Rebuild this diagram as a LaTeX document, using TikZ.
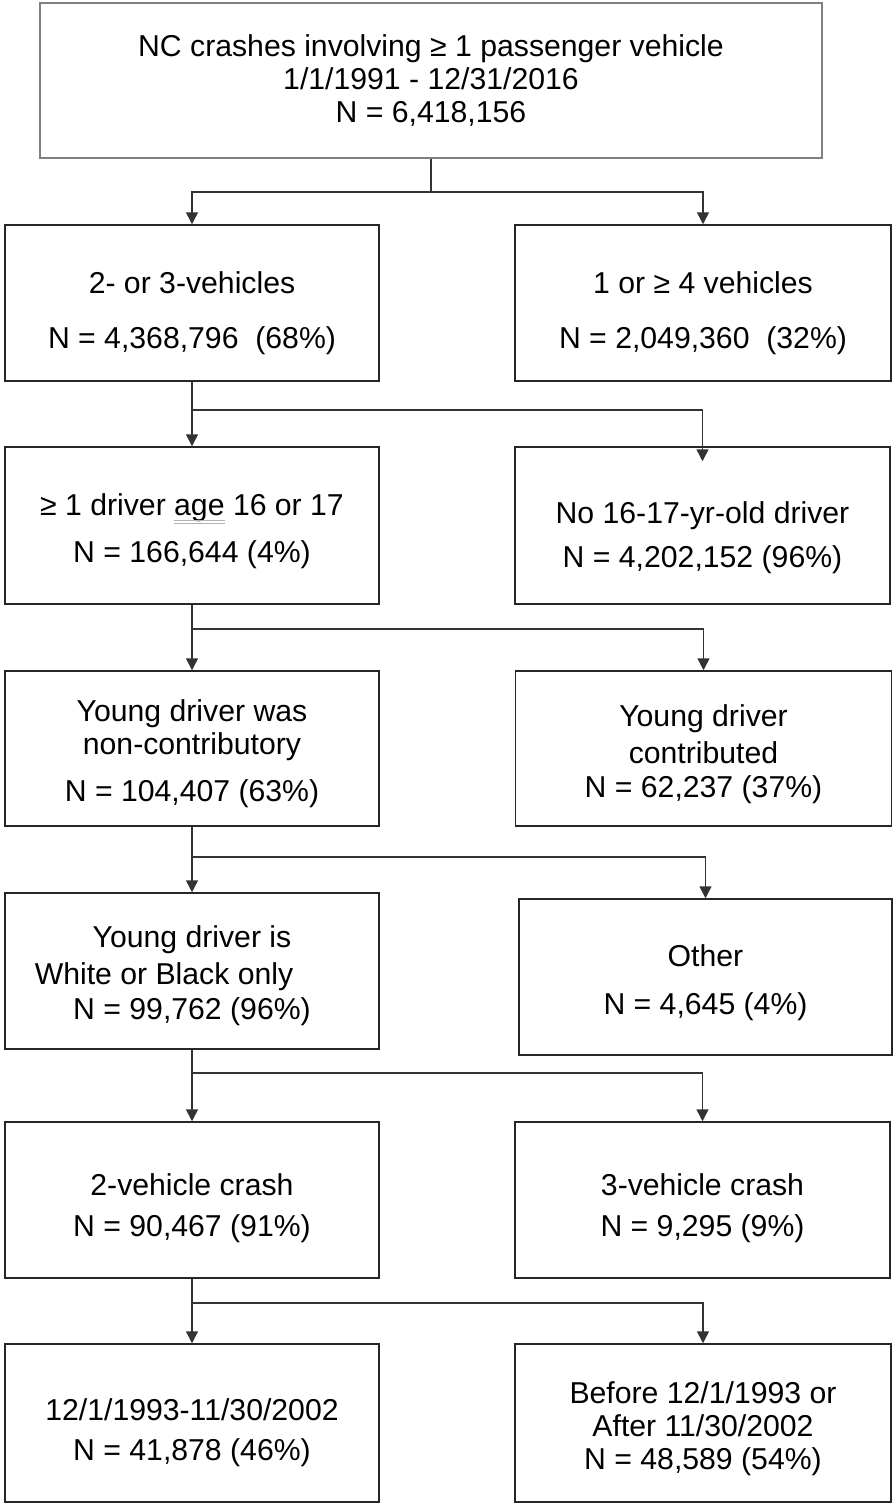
\documentclass[tikz,border=0pt]{standalone}
\usepackage{fontspec}
\setmainfont{Liberation Sans}
\usetikzlibrary{arrows.meta}
\tikzset{
  box/.style={draw=black!85, line width=1.5pt, minimum height=156pt, inner sep=0pt,
    align=center, font=\fontsize{30.2}{33}\selectfont},
  lbox/.style={box, minimum width=374pt},
  rbox/.style={box, minimum width=376pt},
  link/.style={draw=black!80, line width=1.5pt},
  arr/.style={link, -{Triangle[width=12pt,length=12pt]}}
}
% strut that pushes a box text down a little
\newcommand{\lift}[1][33pt]{\rule{0pt}{#1}}
% the grey double line under "age"
\newlength\markwd
\newcommand{\grammarmark}[1]{\settowidth{\markwd}{#1}#1\llap{\textcolor{black!30}{\rule[-6pt]{\markwd}{1.2pt}}}\llap{\textcolor{black!30}{\rule[-9pt]{\markwd}{1.2pt}}}}

\begin{document}
\begin{tikzpicture}[x=1pt,y=-1pt]
\useasboundingbox (0,0) rectangle (896,1512);
\node[box, draw=black!50, line width=2pt, minimum width=782pt, minimum height=155pt] (crashes) at (431,80.5)
  {NC crashes involving ≥ 1 passenger vehicle\\1/1/1991 - 12/31/2016\\N = 6,418,156};
\node[lbox] (multi) at (192,303) {\lift[43pt]2- or 3-vehicles\\[22pt]N = 4,368,796\ \ (68\%)};
\node[rbox] (single) at (703,303) {\lift[43pt]1 or ≥ 4 vehicles\\[22pt]N = 2,049,360\ \ (32\%)};
\node[lbox, minimum height=157pt] (teen) at (192,525.5) {\lift ≥ 1 driver \grammarmark{age} 16 or 17\\[14pt]N = 166,644 (4\%)};
\node[box, minimum width=375pt, minimum height=157pt] (noteen) at (702.5,525.5) {\lift[46pt]No 16-17-yr-old driver\\[11pt]N = 4,202,152 (96\%)};
\node[lbox, minimum height=155pt] (noncontrib) at (192,748.5) {\lift Young driver was\\non-contributory\\[14pt]N = 104,407 (63\%)};
\node[rbox, minimum height=155pt] (contrib) at (703.5,748.5) {\lift Young driver\\[4pt]contributed\\[1pt]N = 62,237 (37\%)};
\node[lbox] (race) at (192,971) {\lift[31pt]Young driver is\\[4pt]White or Black only\rule{56pt}{0pt}\\[2pt]N = 99,762 (96\%)};
\node[box, minimum width=373pt] (otherrace) at (705.5,977) {\lift Other\\[15pt]N = 4,645 (4\%)};
\node[lbox] (veh2) at (192,1200) {\lift[38pt]2-vehicle crash\\[8pt]N = 90,467 (91\%)};
\node[box, minimum width=375pt] (veh3) at (702.5,1200) {\lift[38pt]3-vehicle crash\\[8pt]N = 9,295 (9\%)};
\node[lbox, minimum height=158pt] (law) at (192,1423) {\lift[41pt]12/1/1993-11/30/2002\\[7pt]N = 41,878 (46\%)};
\node[rbox, minimum height=158pt] (nolaw) at (703,1423) {\lift Before 12/1/1993 or\\After 11/30/2002\\N = 48,589 (54\%)};

\coordinate (j1) at (431,192);
\coordinate (j2) at (192,410);
\coordinate (j3) at (192,629);
\coordinate (j4) at (192,857);
\coordinate (j5) at (192,1073);
\coordinate (j6) at (192,1303);
\draw[link] (crashes.south) -- (j1);
\draw[arr] (j1) -| (multi.north);
\draw[arr] (j1) -| (single.north);
\draw[arr] (multi.south) -- (teen.north);
\draw[arr] (j2) -| ([yshift=-15pt]noteen.north);
\draw[arr] (teen.south) -- (noncontrib.north);
\draw[arr] (j3) -| (contrib.north);
\draw[arr] (noncontrib.south) -- (race.north);
\draw[arr] (j4) -| (otherrace.north);
\draw[arr] (race.south) -- (veh2.north);
\draw[arr] (j5) -| (veh3.north);
\draw[arr] (veh2.south) -- (law.north);
\draw[arr] (j6) -| (nolaw.north);
\end{tikzpicture}
\end{document}
